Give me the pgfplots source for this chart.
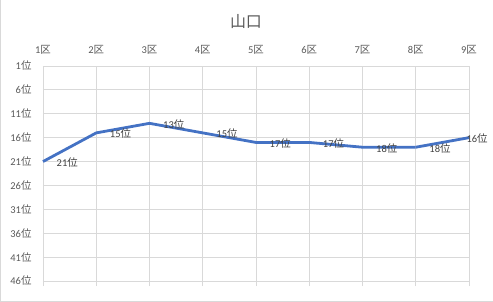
\documentclass[border=0pt]{standalone}
\usepackage{fontspec}
\setmainfont{Carlito}
\newfontfamily\cjk{Noto Sans CJK JP}
\usepackage{pgfplots}
\pgfplotsset{compat=1.18}
\definecolor{gridc}{HTML}{D9D9D9}
\definecolor{tickc}{HTML}{595959}
\definecolor{labc}{HTML}{404040}
\definecolor{linec}{HTML}{4472C4}
\begin{document}
\begin{tikzpicture}
\path[use as bounding box] (-43bp,-21bp) rectangle (450bp,281bp);
\draw[gridc, line width=0.8bp] (-42.5bp,-21bp) -- (-42.5bp,281bp);
\draw[gridc, line width=0.8bp] (-43bp,-20.5bp) -- (450bp,-20.5bp);
\begin{axis}[
  scale only axis, width=426bp, height=215bp,
  xmin=1, xmax=9, ymin=1, ymax=46,
  y dir=reverse,
  xtick={1,...,9},
  xticklabels={1{\cjk 区},2{\cjk 区},3{\cjk 区},4{\cjk 区},5{\cjk 区},6{\cjk 区},7{\cjk 区},8{\cjk 区},9{\cjk 区}},
  xticklabel pos=top, xtick pos=bottom,
  ytick={1,6,...,46},
  yticklabel={\pgfmathprintnumber{\tick}{\cjk 位}},
  /pgf/number format/assume math mode=true,
  grid=major, major grid style={gridc, line width=0.8bp},
  axis line style={gridc, line width=0.8bp},
  tick align=outside, major tick length=5bp,
  xtick style={gridc, line width=0.8bp},
  ytick style={draw=none},
  tick label style={font=\fontsize{10.5}{12}\selectfont, text=tickc},
  xticklabel style={yshift=3bp},
  yticklabel style={xshift=-3bp},
  clip=false,
]
\addplot[linec, line width=2.8bp, nodes near coords={\pgfmathprintnumber{\pgfplotspointmeta}{\cjk 位}}, point meta=explicit,
  every node near coord/.style={anchor=west, xshift=9bp, yshift=-1bp, font=\fontsize{10.5}{12}\selectfont, text=labc},
  ] coordinates {(1,21)[21] (2,15)[15] (3,13)[13] (4,15)[15] (5,17)[17] (6,17)[17] (7,18)[18] (8,18)[18]};
\addplot[linec, line width=2.8bp, forget plot] coordinates {(8,18) (9,16)};
\addplot[draw=none, nodes near coords={\pgfmathprintnumber{\pgfplotspointmeta}{\cjk 位}}, point meta=explicit,
  every node near coord/.style={anchor=west, xshift=-6bp, yshift=-0.5bp, font=\fontsize{10.5}{12}\selectfont, text=labc},
  ] coordinates {(9,16)[16]};
\node[font=\cjk\fontsize{16}{18}\selectfont, text=tickc] at (rel axis cs:0.4765,1) [yshift=44bp] {山口};
\end{axis}
\end{tikzpicture}
\end{document}
